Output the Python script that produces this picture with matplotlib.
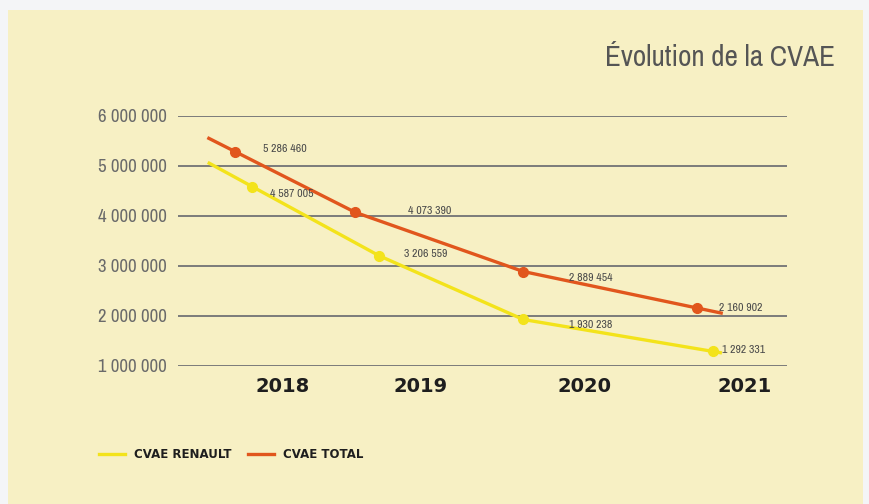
import numpy as np
import matplotlib
matplotlib.use("Agg")
from matplotlib import pyplot as plt
from matplotlib import font_manager
from matplotlib.lines import Line2D

# data
years = ["2018", "2019", "2020", "2021"]
cvae_total = [5286460, 4073390, 2889454, 2160902]
cvae_renault = [4587005, 3206559, 1930238, 1292331]
yticks = [1000000, 2000000, 3000000, 4000000, 5000000, 6000000]

# layout (x in 0..100 across the grid lines, the source draws points off the year columns)
year_pos = [17.2, 39.9, 66.8, 93.1]
total_pos = [9.4, 29.1, 56.7, 85.2]
renault_pos = [12.2, 33.0, 56.7, 87.8]

BG = "#f7f0c4"
ORANGE = "#e1561d"
YELLOW = "#f3e31b"
GREY = "#7b7b7b"

# pick a narrow family if one is installed
names = sorted(set(f.name for f in font_manager.fontManager.ttflist))
narrow = [n for n in names if "Narrow" in n or "Condensed" in n]
NARROW = (narrow[:1] if narrow else ["Liberation Sans"]) + ["DejaVu Sans"]
shrink = 1.0 if narrow else 0.85


def fmt(v):
	return "{:,}".format(v).replace(",", " ")


def extend(xs, ys, f0, f1):
	# prolong the first and last segment a little, as in the source
	xs = list(xs); ys = list(ys)
	x0 = xs[0] - f0 * (xs[1] - xs[0]); y0 = ys[0] - f0 * (ys[1] - ys[0])
	x1 = xs[-1] + f1 * (xs[-1] - xs[-2]); y1 = ys[-1] + f1 * (ys[-1] - ys[-2])
	return [x0] + xs + [x1], [y0] + ys + [y1]


fig = plt.figure(figsize=(8.69, 5.04), dpi=100)
fig.patch.set_facecolor("#f4f5f7")
fig.patches.append(plt.Rectangle((8 / 869, 0), 855 / 869, 1 - 10 / 504,
	transform=fig.transFigure, facecolor=BG, edgecolor="none", zorder=-5))

ax = fig.add_axes([178 / 869, 1 - 366 / 504, 609 / 869, 250 / 504])
ax.set_zorder(2)
ax.set_facecolor("none")
ax.set_xlim(0, 100)
ax.set_ylim(1000000, 6000000)
for s in ax.spines.values():
	s.set_visible(False)
ax.set_xticks([])
ax.set_yticks(yticks)
ax.set_yticklabels([fmt(v) for v in yticks], family=NARROW, fontsize=13.5 * shrink, color="#6a6a6a")
ax.tick_params(axis="y", length=0, pad=8)
for v in yticks:
	ax.axhline(v, color=GREY, lw=1.4, zorder=1)

lx, ly = extend(total_pos, cvae_total, 0.22, 0.14)
ax.plot(lx, ly, color=ORANGE, lw=2.4, zorder=3, clip_on=False)
ax.plot(total_pos, cvae_total, "o", color=ORANGE, ms=7, zorder=4, clip_on=False)
lx, ly = extend(renault_pos, cvae_renault, 0.34, 0.04)
ax.plot(lx, ly, color=YELLOW, lw=2.4, zorder=3, clip_on=False)
ax.plot(renault_pos, cvae_renault, "o", color=YELLOW, ms=7, zorder=4, clip_on=False)

# value labels, offsets in points
total_off = [(20, 2), (38, 1), (33, -5), (16, 0)]
renault_off = [(13, -5), (18, 1), (33, -4), (7, 1)]
for x, v, o in zip(total_pos, cvae_total, total_off):
	ax.annotate(fmt(v), (x, v), xytext=o, textcoords="offset points", va="center", ha="left",
		family=NARROW, fontsize=8.5 * shrink, color="#4a4a4a", annotation_clip=False, zorder=5)
for x, v, o in zip(renault_pos, cvae_renault, renault_off):
	ax.annotate(fmt(v), (x, v), xytext=o, textcoords="offset points", va="center", ha="left",
		family=NARROW, fontsize=8.5 * shrink, color="#4a4a4a", annotation_clip=False, zorder=5)

for x, y in zip(year_pos, years):
	ax.text(x, -0.08, y, transform=ax.get_xaxis_transform(), ha="center", va="center",
		fontsize=14, fontweight="bold", color="#1e1e1e")

fig.text(835 / 869, 1 - 57 / 504, "Évolution de la CVAE", ha="right", va="center",
	family=NARROW, fontsize=21 * shrink, color="#555555")

handles = [Line2D([], [], color=YELLOW, lw=2.4), Line2D([], [], color=ORANGE, lw=2.4)]
fig.legend(handles, ["CVAE RENAULT", "CVAE TOTAL"], ncol=2, frameon=False,
	loc="center left", bbox_to_anchor=(88 / 869, 1 - 455 / 504),
	prop={"weight": "bold", "size": 8.5}, handlelength=2.2, handletextpad=0.8, columnspacing=1.4,
	labelcolor="#1e1e1e")

plt.savefig("out.png", dpi=100, facecolor=fig.get_facecolor())
